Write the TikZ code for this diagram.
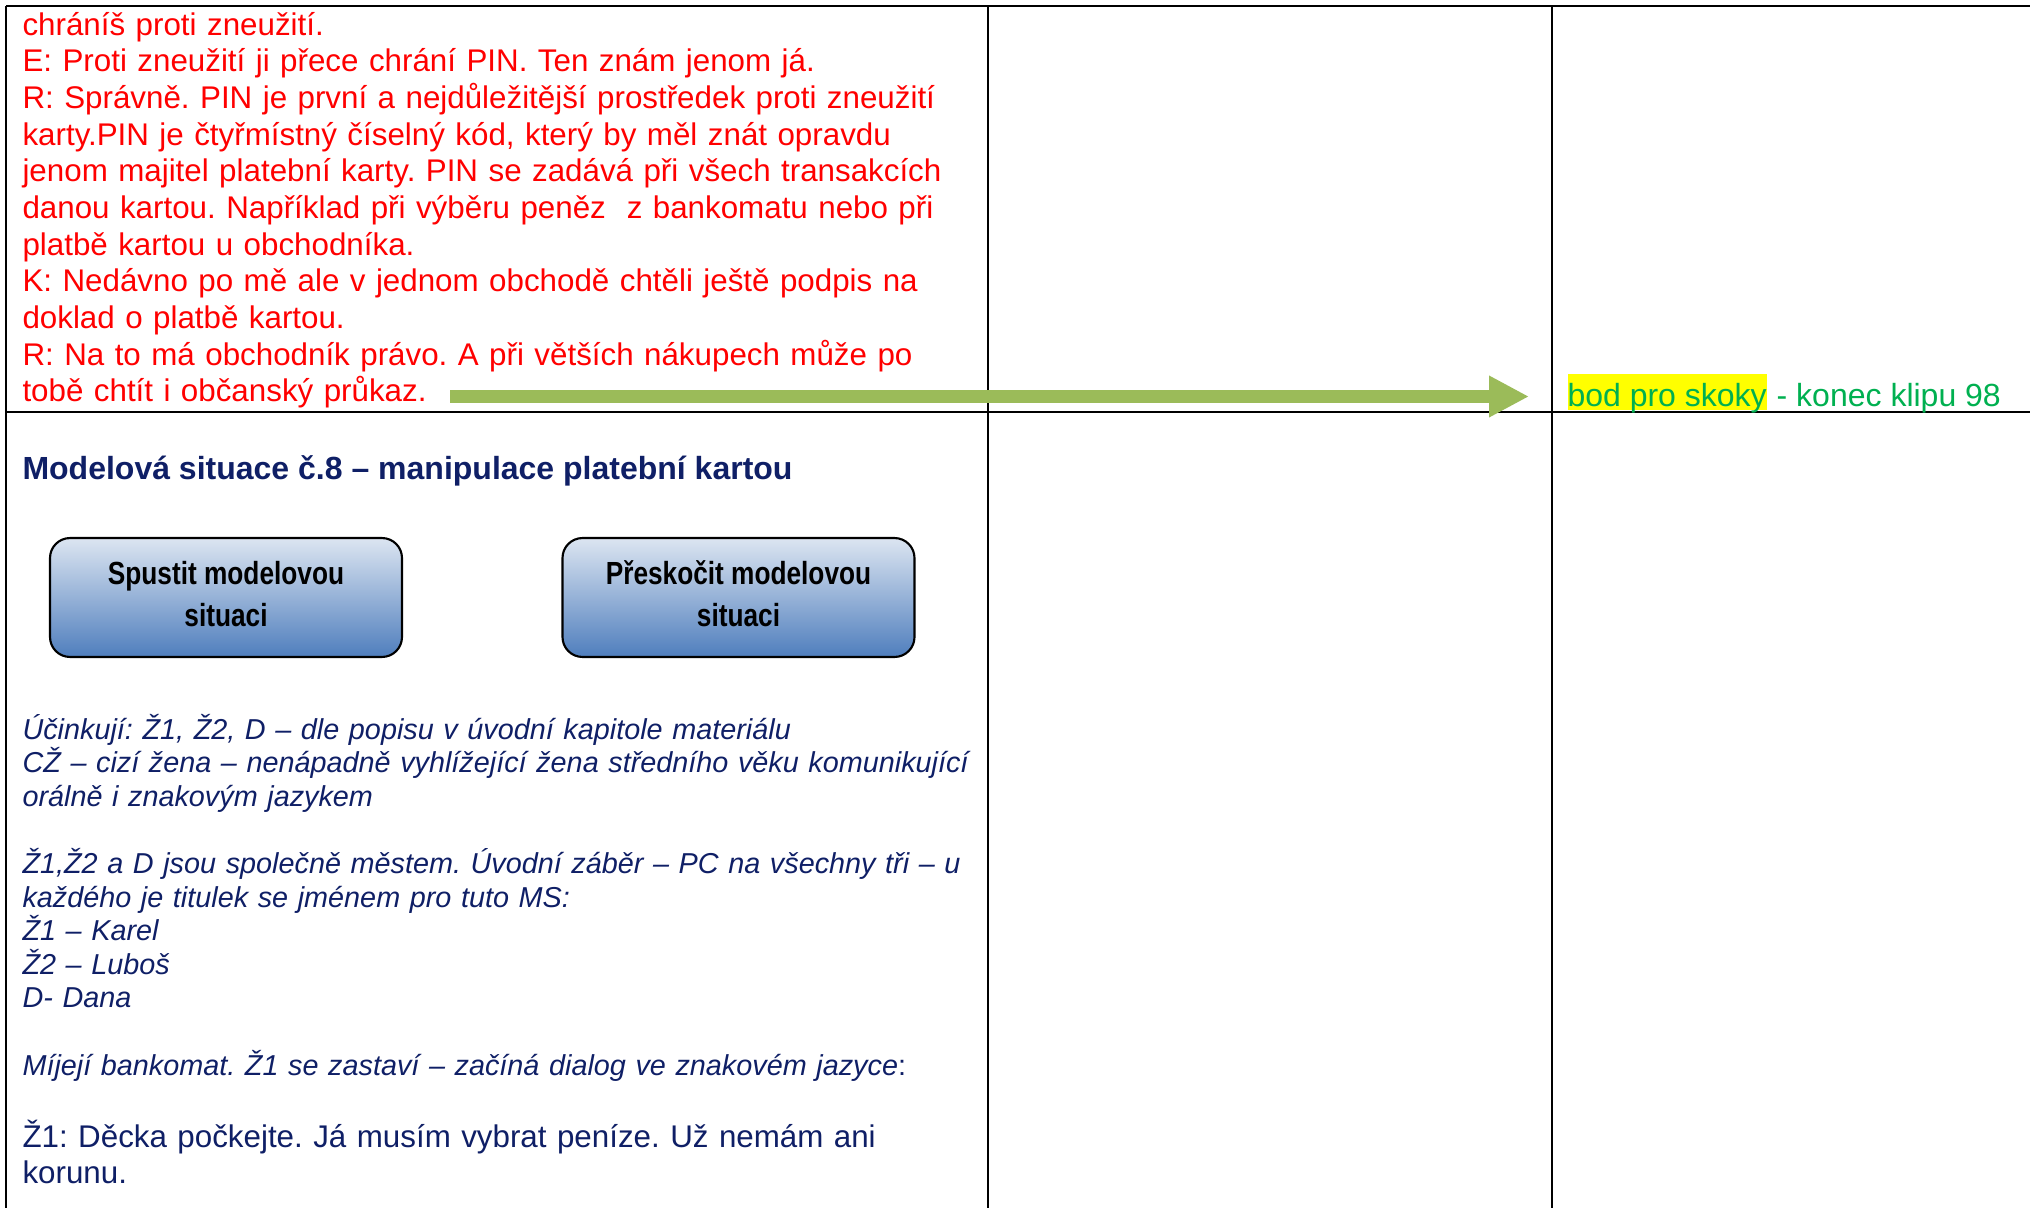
\documentclass[tikz,border=0pt]{standalone}
\usepackage{fontspec}
\setmainfont{Liberation Sans}
\newfontfamily\narrowsans[FakeStretch=0.82]{Liberation Sans}
\usetikzlibrary{arrows.meta}
\frenchspacing

\definecolor{dlgred}{HTML}{FF0000}
\definecolor{navy}{HTML}{0F1F66}
\definecolor{jumpgreen}{HTML}{9BBB59}
\definecolor{clipgreen}{HTML}{00B050}
\definecolor{markyellow}{HTML}{FFFF00}
\definecolor{btntop}{HTML}{DCE5F1}
\definecolor{btnbot}{HTML}{4F7EBD}

\tikzset{
  gridline/.style={line width=0.75pt,black},
  redtext/.style={anchor=base west,inner sep=0pt,text width=370pt,align=left,
    text=dlgred,font=\fontsize{11.75pt}{13.75pt}\selectfont},
  notetext/.style={anchor=base west,inner sep=0pt,text width=370pt,align=left,
    text=navy,font=\fontsize{10.8pt}{12.6pt}\selectfont\itshape},
  speech/.style={anchor=base west,inner sep=0pt,text width=370pt,align=left,
    text=navy,font=\fontsize{11.75pt}{13.75pt}\selectfont},
  btn/.style={draw=black,line width=0.8pt,rounded corners=7.5pt,
    top color=btntop,bottom color=btnbot,minimum width=132pt,minimum height=44.6pt,
    align=center,inner sep=0pt,text depth=3pt,
    font=\narrowsans\bfseries\fontsize{12pt}{15.75pt}\selectfont},
  jumparrow/.style={jumpgreen,line width=4.9pt,
    -{Triangle[length=15pt,width=14.6pt]},shorten >=14.25pt},
}

\begin{document}
\begin{tikzpicture}[x=0.375pt,y=-0.375pt]
    \useasboundingbox (0,0) rectangle (2030,1208);

    % Table lines
    \draw[gridline] (6,6) -- (2030,6);
    \draw[gridline] (6,412) -- (2030,412);
    \draw[gridline] (6,6) -- (6,1208);
    \draw[gridline] (988,6) -- (988,1208);
    \draw[gridline] (1552,6) -- (1552,1208);

    % Dialogue (end of previous situation)
    \node[redtext] (dialog) at (22,35) {chráníš proti zneužití.\\
      E: Proti zneužití ji přece chrání PIN. Ten znám jenom já.\\
      R: Správně. PIN je první a nejdůležitější prostředek proti zneužití\\
      karty.PIN je čtyřmístný číselný kód, který by měl znát opravdu\\
      jenom majitel platební karty. PIN se zadává při všech transakcích\\
      danou kartou. Například při výběru peněz\ \ z bankomatu nebo při\\
      platbě kartou u obchodníka.\\
      K: Nedávno po mě ale v jednom obchodě chtěli ještě podpis na\\
      doklad o platbě kartou.\\
      R: Na to má obchodník právo. A při větších nákupech může po\\
      tobě chtít i občanský průkaz.};

    % Jump point
    \node[anchor=base west,inner sep=0pt,fill=markyellow,text=clipgreen,
      text height=12pt,text depth=1.5pt,font=\fontsize{12pt}{13.75pt}\selectfont]
      (bod) at (1567,406) {bod pro skoky};
    \node[anchor=base west,inner sep=0pt,text=clipgreen,
      font=\fontsize{12pt}{13.75pt}\selectfont] (konec) at (bod.base east) {\ - konec klipu 98};
    \coordinate (tail) at (450,396.5);
    \draw[jumparrow] (tail) -- (tail -| bod.west);

    % Model situation 8
    \node[anchor=base west,inner sep=0pt,text=navy,
      font=\fontsize{12pt}{13.75pt}\selectfont\bfseries] (title) at (22,479)
      {Modelová situace č.8 – manipulace platební kartou};
    \node[btn] (spustit) at (226,597.5) {Spustit modelovou\\situaci};
    \node[btn] (preskocit) at (738.5,597.5) {Přeskočit modelovou\\situaci};

    \node[notetext] (ucinkuji) at (22,739) {Účinkují: Ž1, Ž2, D – dle popisu v úvodní kapitole materiálu\\
      CŽ – cizí žena – nenápadně vyhlížející žena středního věku komunikující\\
      orálně i znakovým jazykem\\[12.6pt]
      Ž1,Ž2 a D jsou společně městem. Úvodní záběr – PC na všechny tři – u\\
      každého je titulek se jménem pro tuto MS:\\
      Ž1 – Karel\\
      Ž2 – Luboš\\
      D- Dana\\[12.6pt]
      Míjejí bankomat. Ž1 se zastaví – začíná dialog ve znakovém jazyce{\upshape :}};

    \node[speech] (zena) at (22,1147) {Ž1: Děcka počkejte. Já musím vybrat peníze. Už nemám ani\\
      korunu.};
\end{tikzpicture}
\end{document}
